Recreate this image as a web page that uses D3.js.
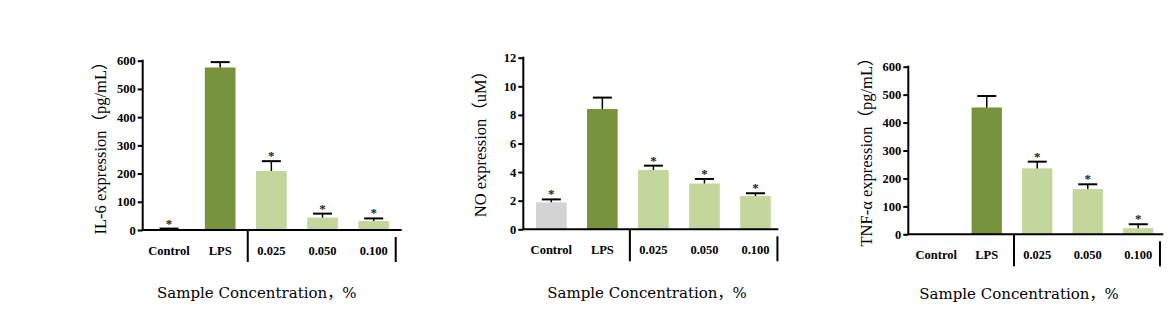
<!DOCTYPE html>
<html>
<head>
<meta charset="utf-8">
<script src="https://cdn.jsdelivr.net/npm/d3@7"></script>
<style>
  body { margin: 0; background: #fff; }
  svg { display: block; }
  .tick text { font-family: "Liberation Serif", "Times New Roman", serif; font-weight: bold; font-size: 12.5px; }
</style>
</head>
<body>
<svg id="chart" width="1174" height="326"></svg>
<script>
// categories shared by all three panels
const categories = ["Control", "LPS", "0.025", "0.050", "0.100"];

// IL-6 (pg/mL)
const il6Values = [3, 576, 209, 44, 32];
const il6Errors = [2, 19, 35, 14, 9];
const il6Stars = [true, false, true, true, true];
const il6Ticks = [0, 100, 200, 300, 400, 500, 600];

// NO (uM)
const noValues = [1.89, 8.41, 4.15, 3.2, 2.33];
const noErrors = [0.2, 0.8, 0.3, 0.32, 0.19];
const noStars = [true, false, true, true, true];
const noTicks = [0, 2, 4, 6, 8, 10, 12];

// TNF-α (pg/mL)
const tnfValues = [0, 454, 236, 162, 22];
const tnfErrors = [0, 41, 24, 17, 14];
const tnfStars = [false, false, true, true, true];
const tnfTicks = [0, 100, 200, 300, 400, 500, 600];

const barColors = ["#d3d3d3", "#77933c", "#c3d69b", "#c3d69b", "#c3d69b"];
const xTitle = "Sample Concentration，%";

const svg = d3.select("#chart");

function panel(opt) {
  const g = svg.append("g");
  const x = d3.scaleBand().domain(categories).range(opt.band).paddingInner(0.4).paddingOuter(0.2);
  const y = d3.scaleLinear().domain([0, opt.max]).range(opt.yRange);
  const y0 = y(0);
  const cx = c => x(c) + x.bandwidth() / 2;

  const rows = categories.map((c, i) => ({
    cat: c, value: opt.values[i], err: opt.errors[i], star: opt.stars[i], color: barColors[i]
  }));
  const withErr = rows.filter(d => d.err > 0);
  const withStar = rows.filter(d => d.star);

  // bars
  g.selectAll(".bar").data(rows).join("rect")
    .attr("x", d => x(d.cat))
    .attr("y", d => y(d.value))
    .attr("width", x.bandwidth())
    .attr("height", d => y0 - y(d.value))
    .attr("fill", d => d.color);

  // error bars
  g.selectAll(".stem").data(withErr).join("line")
    .attr("x1", d => cx(d.cat)).attr("x2", d => cx(d.cat))
    .attr("y1", d => y(d.value)).attr("y2", d => y(d.value + d.err))
    .attr("stroke", "#000").attr("stroke-width", 1.5);
  g.selectAll(".cap").data(withErr).join("line")
    .attr("x1", d => cx(d.cat) - 9.5).attr("x2", d => cx(d.cat) + 9.5)
    .attr("y1", d => y(d.value + d.err)).attr("y2", d => y(d.value + d.err))
    .attr("stroke", "#000").attr("stroke-width", 2);

  // significance stars
  g.selectAll(".star").data(withStar).join("text")
    .attr("x", d => cx(d.cat))
    .attr("y", d => y(d.value + d.err) - 1)
    .attr("text-anchor", "middle")
    .style("font-family", "Liberation Serif, serif")
    .style("font-weight", "bold")
    .style("font-size", "13px")
    .attr("fill", "#222")
    .text("*");

  // y axis
  const yAxis = d3.axisLeft(y).tickValues(opt.ticks).tickSize(5).tickPadding(2).tickSizeOuter(0);
  const ya = g.append("g").attr("transform", `translate(${opt.axisX},0)`).call(yAxis);
  ya.select(".domain").attr("stroke-width", 2).attr("d", `M0,${y0}V${y(opt.max) - 1}`);
  ya.selectAll(".tick line").attr("stroke-width", 2);
  ya.selectAll(".tick text").attr("fill", "#000");

  // x axis (labels only, no ticks)
  const xAxis = d3.axisBottom(x).tickSize(0).tickPadding(16);
  const xa = g.append("g").attr("transform", `translate(0,${y0})`).call(xAxis);
  xa.select(".domain").attr("stroke-width", 2).attr("d", `M${opt.axisX - 1},0H${opt.axisEnd}`);
  xa.selectAll(".tick text").attr("fill", "#000");

  // group separators below the axis
  const step = x.step();
  const sepX = (cx("LPS") + cx("0.025")) / 2 + 2;
  const endX = cx("0.100") + step * 0.43;
  g.append("line").attr("x1", sepX).attr("x2", sepX).attr("y1", y0).attr("y2", y0 + 32)
    .attr("stroke", "#000").attr("stroke-width", 2);
  g.append("line").attr("x1", endX).attr("x2", endX).attr("y1", y0 + 7).attr("y2", y0 + 32)
    .attr("stroke", "#000").attr("stroke-width", 2);

  // y title
  g.append("text")
    .attr("transform", `translate(${opt.labelX},${opt.labelY}) rotate(-90)`)
    .attr("text-anchor", "middle")
    .style("font-family", "Liberation Serif, 'Noto Sans CJK SC', serif")
    .style("font-size", "16.5px")
    .text(opt.yTitle);

  // x title
  g.append("text")
    .attr("x", opt.titleX).attr("y", opt.titleY)
    .attr("text-anchor", "middle")
    .style("font-family", "'DejaVu Serif', 'Noto Sans CJK SC', serif")
    .style("font-size", "15px")
    .text(xTitle);
}

panel({
  values: il6Values, errors: il6Errors, stars: il6Stars, ticks: il6Ticks, max: 600,
  band: [143.4, 399.3], yRange: [230, 60.7], axisX: 142.7, axisEnd: 401.7,
  yTitle: "IL-6 expression（pg/mL）", labelX: 106, labelY: 144, titleX: 256.7, titleY: 298
});
panel({
  values: noValues, errors: noErrors, stars: noStars, ticks: noTicks, max: 12,
  band: [525.8, 781], yRange: [229.3, 57.7], axisX: 523.3, axisEnd: 778.3,
  yTitle: "NO expression（uM）", labelX: 486, labelY: 140, titleX: 647, titleY: 298
});
panel({
  values: tnfValues, errors: tnfErrors, stars: tnfStars, ticks: tnfTicks, max: 600,
  band: [911, 1163.5], yRange: [234.3, 66.7], axisX: 908.3, axisEnd: 1163.3,
  yTitle: "TNF-α expression（pg/mL）", labelX: 872, labelY: 148, titleX: 1019, titleY: 299
});
</script>
</body>
</html>
